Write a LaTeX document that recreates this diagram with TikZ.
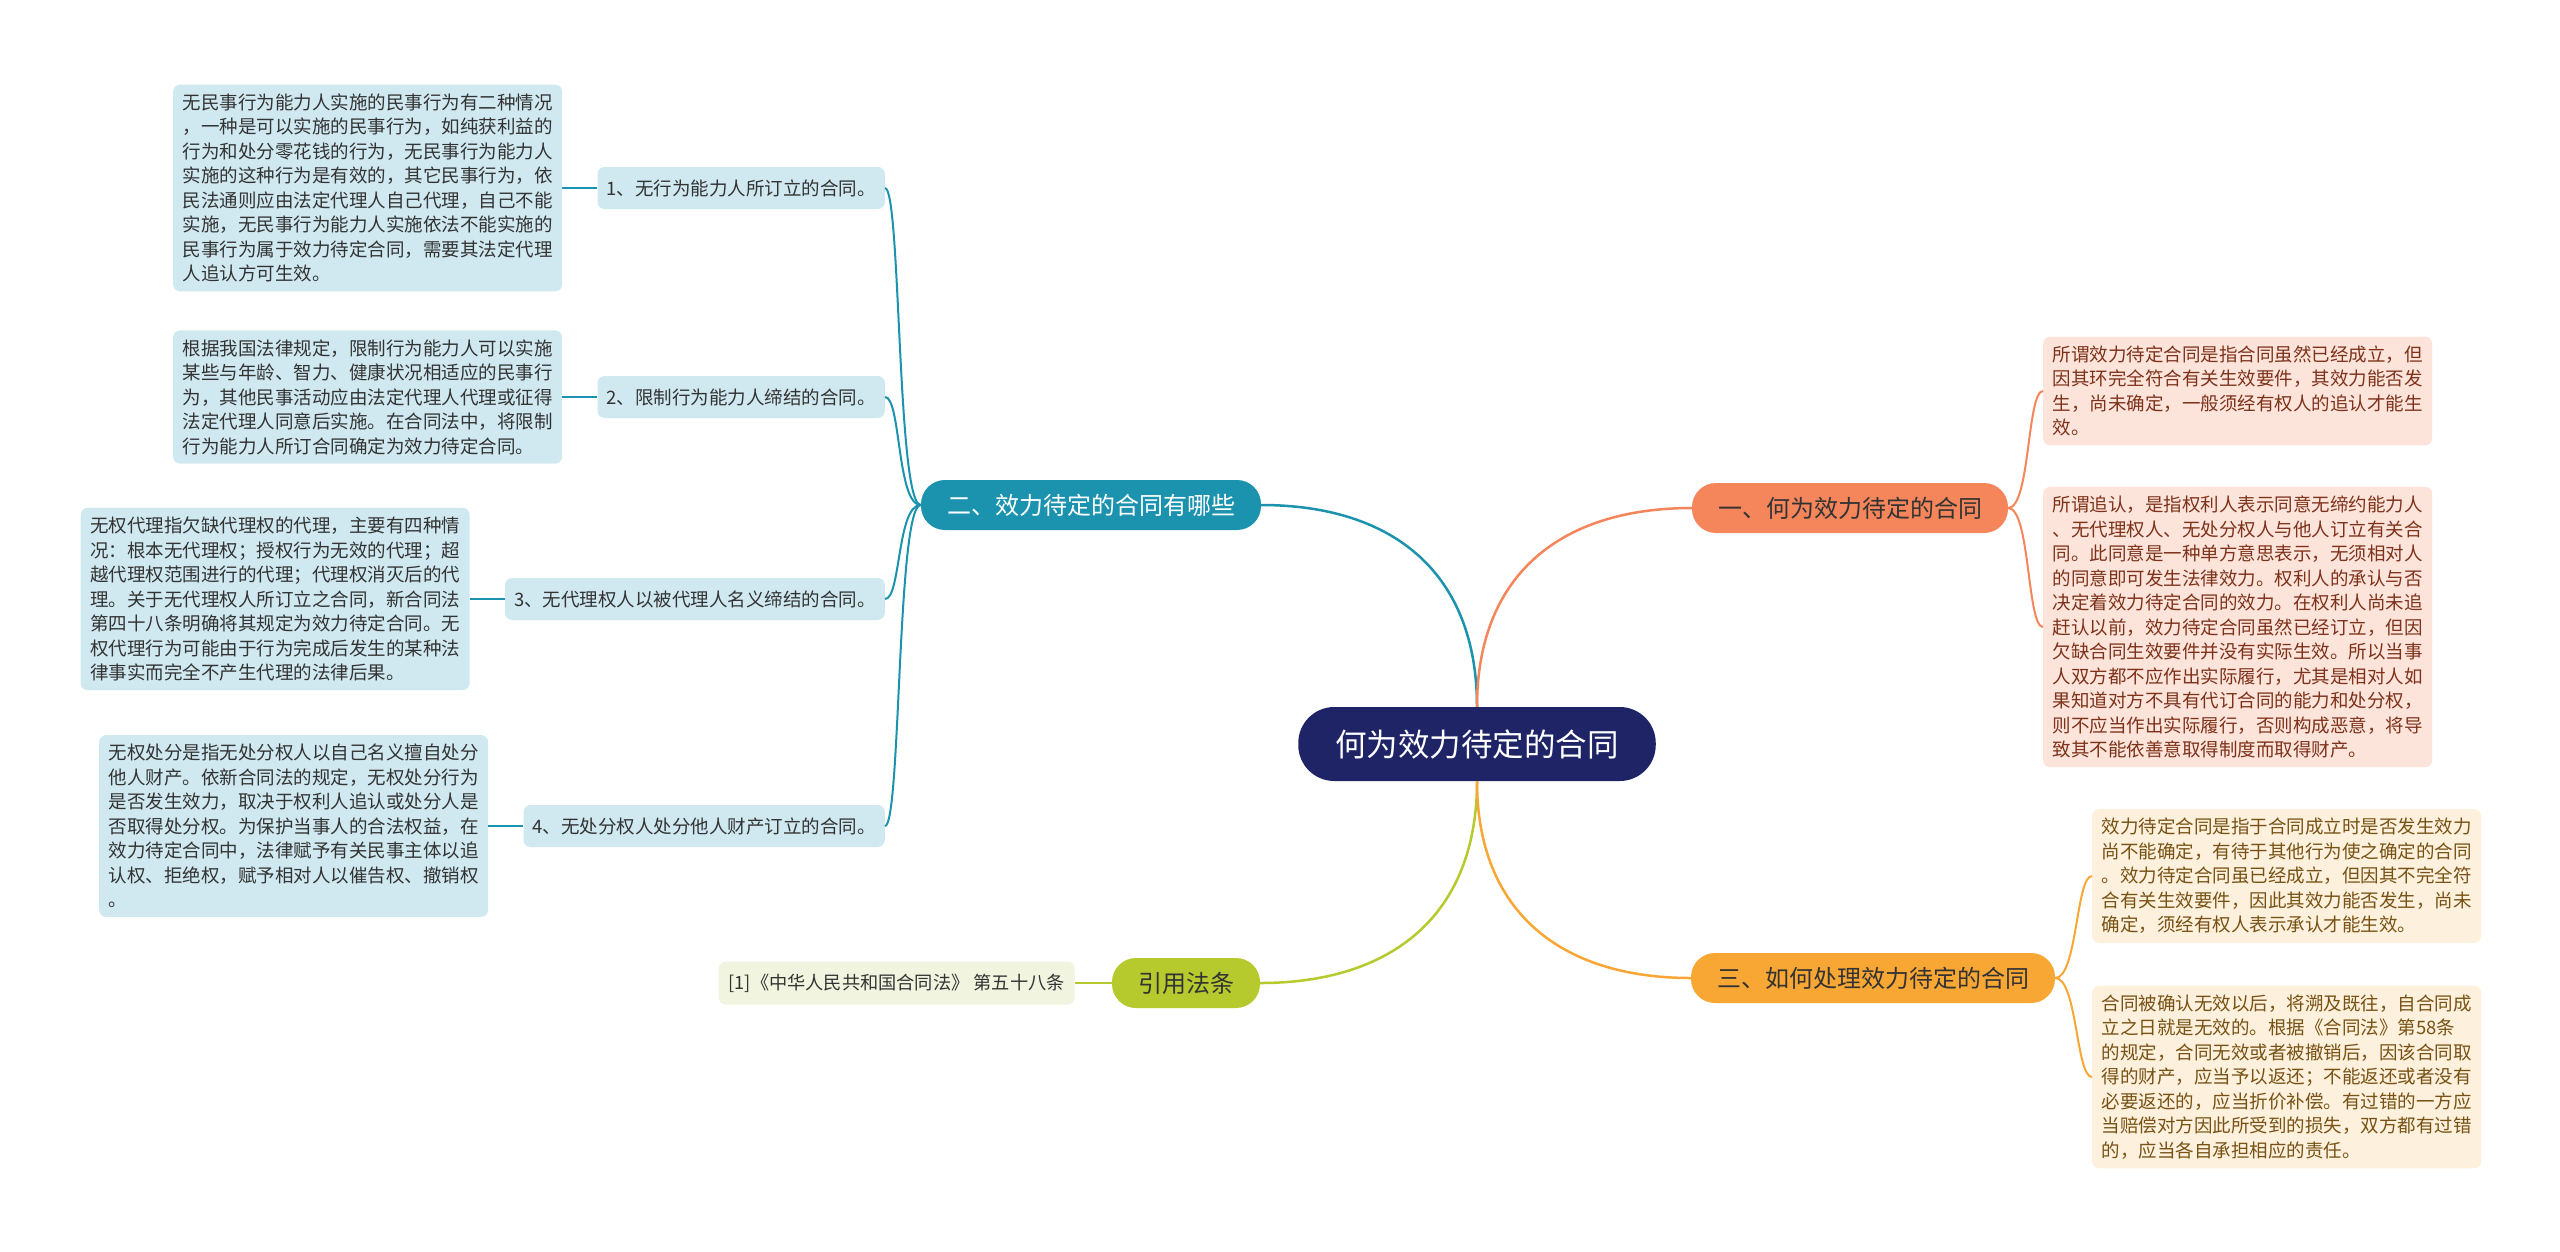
\documentclass[tikz,border=0pt]{standalone}
\usepackage{fontspec}
\setmainfont{Noto Sans CJK SC}
\usetikzlibrary{positioning}
\definecolor{rootblue}{HTML}{1F2466}
\definecolor{tealB}{HTML}{1B93AF}
\definecolor{tealL}{HTML}{D0E9F1}
\definecolor{orgB}{HTML}{F5855A}
\definecolor{orgL}{HTML}{FCE4DB}
\definecolor{orgT}{HTML}{7E321A}
\definecolor{ylwB}{HTML}{F8A735}
\definecolor{ylwL}{HTML}{FDF0DC}
\definecolor{ylwT}{HTML}{775214}
\definecolor{grnB}{HTML}{B6C92D}
\definecolor{grnL}{HTML}{F1F4DE}
\definecolor{ink}{HTML}{333333}
\begin{document}
\begin{tikzpicture}[x=1pt, y=1pt,
    leaf/.style={rounded corners=7pt, inner xsep=9.5pt, inner ysep=9pt, text width=370pt, align=left, font=\fontsize{18.5}{24.5}\selectfont},
    sub/.style={rounded corners=7pt, fill=tealL, text=ink, inner xsep=9pt, minimum height=42pt, font=\fontsize{18.5}{22}\selectfont},
    main/.style={rounded corners=24pt, inner xsep=26pt, minimum height=50pt, font=\fontsize{24}{28}\selectfont},
    link/.style={line width=2.5pt},
    twig/.style={line width=2pt}]
    \path[use as bounding box, fill=white] (0,0) rectangle (2560,-1251);

    \node[main, fill=rootblue, text=white, rounded corners=36pt, minimum height=74pt, inner xsep=37pt, font=\fontsize{31.5}{36}\selectfont] (root) at (1477,-744) {何为效力待定的合同};
    \node[main, fill=tealB, text=white] (q2)  at (1091,-505) {二、效力待定的合同有哪些};
    \node[main, fill=orgB, text=ink]    (q1)  at (1850,-508) {一、何为效力待定的合同};
    \node[main, fill=ylwB, text=ink]    (q3)  at (1873,-978) {三、如何处理效力待定的合同};
    \node[main, fill=grnB, text=ink]    (law) at (1186,-983) {引用法条};

    \node[rounded corners=7pt, fill=grnL, text=ink, inner xsep=10pt, minimum height=43pt, font=\fontsize{18.2}{20}\selectfont, left=37pt of law] (ref) {[1]《中华人民共和国合同法》 第五十八条};

    \node[sub, anchor=east] (k1) at (885,-188) {1、无行为能力人所订立的合同。};
    \node[sub, anchor=east] (k2) at (885,-397) {2、限制行为能力人缔结的合同。};
    \node[sub, anchor=east] (k3) at (885,-599) {3、无代理权人以被代理人名义缔结的合同。};
    \node[sub, anchor=east] (k4) at (885,-826) {4、无处分权人处分他人财产订立的合同。};

    \node[leaf, fill=tealL, text=ink, left=35pt of k1] (d1) {无民事行为能力人实施的民事行为有二种情况\\，一种是可以实施的民事行为，如纯获利益的\\行为和处分零花钱的行为，无民事行为能力人\\实施的这种行为是有效的，其它民事行为，依\\民法通则应由法定代理人自己代理，自己不能\\实施，无民事行为能力人实施依法不能实施的\\民事行为属于效力待定合同，需要其法定代理\\人追认方可生效。};
    \node[leaf, fill=tealL, text=ink, left=35pt of k2] (d2) {根据我国法律规定，限制行为能力人可以实施\\某些与年龄、智力、健康状况相适应的民事行\\为，其他民事活动应由法定代理人代理或征得\\法定代理人同意后实施。在合同法中，将限制\\行为能力人所订合同确定为效力待定合同。};
    \node[leaf, fill=tealL, text=ink, left=35pt of k3] (d3) {无权代理指欠缺代理权的代理，主要有四种情\\况：根本无代理权；授权行为无效的代理；超\\越代理权范围进行的代理；代理权消灭后的代\\理。关于无代理权人所订立之合同，新合同法\\第四十八条明确将其规定为效力待定合同。无\\权代理行为可能由于行为完成后发生的某种法\\律事实而完全不产生代理的法律后果。};
    \node[leaf, fill=tealL, text=ink, left=35pt of k4] (d4) {无权处分是指无处分权人以自己名义擅自处分\\他人财产。依新合同法的规定，无权处分行为\\是否发生效力，取决于权利人追认或处分人是\\否取得处分权。为保护当事人的合法权益，在\\效力待定合同中，法律赋予有关民事主体以追\\认权、拒绝权，赋予相对人以催告权、撤销权\\。};

    \node[leaf, fill=orgL, text=orgT, anchor=west] (e1) at (2043,-391) {所谓效力待定合同是指合同虽然已经成立，但\\因其环完全符合有关生效要件，其效力能否发\\生，尚未确定，一般须经有权人的追认才能生\\效。};
    \node[leaf, fill=orgL, text=orgT, anchor=west] (e2) at (2043,-627) {所谓追认，是指权利人表示同意无缔约能力人\\、无代理权人、无处分权人与他人订立有关合\\同。此同意是一种单方意思表示，无须相对人\\的同意即可发生法律效力。权利人的承认与否\\决定着效力待定合同的效力。在权利人尚未追\\赶认以前，效力待定合同虽然已经订立，但因\\欠缺合同生效要件并没有实际生效。所以当事\\人双方都不应作出实际履行，尤其是相对人如\\果知道对方不具有代订合同的能力和处分权，\\则不应当作出实际履行，否则构成恶意，将导\\致其不能依善意取得制度而取得财产。};
    \node[leaf, fill=ylwL, text=ylwT, anchor=west] (h1) at (2092,-876) {效力待定合同是指于合同成立时是否发生效力\\尚不能确定，有待于其他行为使之确定的合同\\。效力待定合同虽已经成立，但因其不完全符\\合有关生效要件，因此其效力能否发生，尚未\\确定，须经有权人表示承认才能生效。};
    \node[leaf, fill=ylwL, text=ylwT, anchor=west] (h2) at (2092,-1077) {合同被确认无效以后，将溯及既往，自合同成\\立之日就是无效的。根据《合同法》第58条\\的规定，合同无效或者被撤销后，因该合同取\\得的财产，应当予以返还；不能返还或者没有\\必要返还的，应当折价补偿。有过错的一方应\\当赔偿对方因此所受到的损失，双方都有过错\\的，应当各自承担相应的责任。};

    \draw[link, tealB] (root.north) to[out=90,in=0,looseness=1.15] (q2.east);
    \draw[link, orgB] (root.north) to[out=90,in=180,looseness=1.15] (q1.west);
    \draw[link, grnB] (root.south) to[out=-90,in=0,looseness=1.15] (law.east);
    \draw[link, ylwB] (root.south) to[out=-90,in=180,looseness=1.15] (q3.west);
    \draw[link, grnB] (law.west) -- (ref.east);
    \foreach \i in {1,...,4} {
        \draw[twig, tealB] (q2.west) .. controls +(-24,0) and +(16,0) .. (k\i.east);
        \draw[link, tealB] (k\i.west) -- (d\i.east);
    }
    \foreach \e in {e1,e2}
        \draw[twig, orgB] (q1.east) .. controls +(22,0) and +(-16,0) .. (\e.west);
    \foreach \h in {h1,h2}
        \draw[twig, ylwB] (q3.east) .. controls +(22,0) and +(-16,0) .. (\h.west);
\end{tikzpicture}
\end{document}
